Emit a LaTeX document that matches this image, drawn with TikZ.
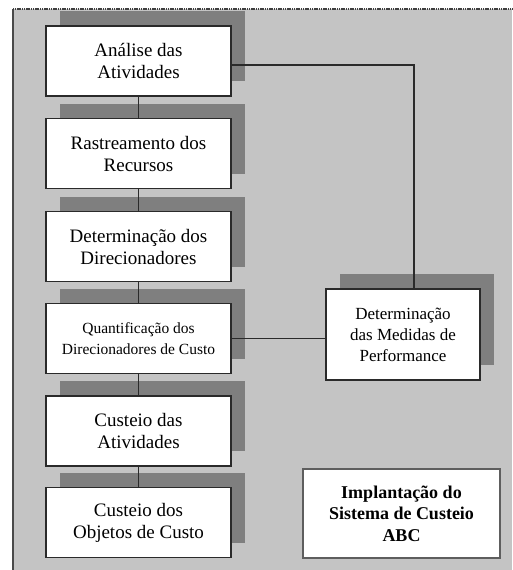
\documentclass[tikz,border=0pt]{standalone}
\usepackage{fontspec}
\setmainfont{Liberation Serif}
\usetikzlibrary{shadows}
\definecolor{panel}{HTML}{C4C4C4}
\definecolor{shade}{HTML}{7F7F7F}
\definecolor{edge}{HTML}{2A2A2A}
\definecolor{softedge}{HTML}{5E5E5E}
\begin{document}
\begin{tikzpicture}[x=1pt,y=-1pt,
  stage/.style={draw=edge, line width=1.2pt, fill=white, align=center,
    inner sep=2pt, minimum width=185pt, minimum height=70pt,
    font=\fontsize{19}{22}\selectfont,
    drop shadow={shadow xshift=14pt, shadow yshift=15pt, opacity=1, fill=shade, draw=none}},
  smalltext/.style={font=\fontsize{15.5}{21}\selectfont},
  measure/.style={stage, minimum width=154pt, minimum height=91pt,
    font=\fontsize{17}{21}\selectfont},
  titlebox/.style={draw=softedge, line width=1.5pt, fill=white, align=center,
    minimum width=197pt, minimum height=89pt,
    font=\fontsize{18}{21.5}\selectfont\bfseries},
  link/.style={draw=edge, line width=1.4pt}
]
\useasboundingbox (0,0) rectangle (512,570);
% panel with its left and top borders
\fill[panel] (13,9) rectangle (512,570);
\draw[edge!85, line width=1.4pt] (13,570) -- (13,9);
\draw[edge!90, line width=2.2pt, dash pattern=on 1.2pt off 0.6pt] (13,9) -- (512,9);

% main chain of steps
\node[stage] (b1) at (138.5,61)  {Análise das\\Atividades};
\node[stage] (b2) at (138.5,153.5) {Rastreamento dos\\Recursos};
\node[stage] (b3) at (138.5,246.5) {Determinação dos\\Direcionadores};
\node[stage, smalltext] (b4) at (138.5,338.5) {Quantificação dos\\Direcionadores de Custo};
\node[stage] (b5) at (138.5,431) {Custeio das\\Atividades};
\node[stage] (b6) at (138.5,522.5) {Custeio dos\\Objetos de Custo};

% side step and title
\node[measure] (r) at (403,334.5) {Determinação\\das Medidas de\\Performance};
\node[titlebox] (t) at (401.5,513.5) {Implantação do\\Sistema de Custeio\\ABC};

% connectors
\draw[link] (b1.south) -- (b2.north);
\draw[link] (b2.south) -- (b3.north);
\draw[link] (b3.south) -- (b4.north);
\draw[link] (b4.south) -- (b5.north);
\draw[link] (b5.south) -- (b6.north);
\draw[link] ([yshift=-4pt]b1.east) -| ([xshift=11pt]r.north);
\draw[link] (b4.east) -- (b4.east -| r.west);
\end{tikzpicture}
\end{document}
